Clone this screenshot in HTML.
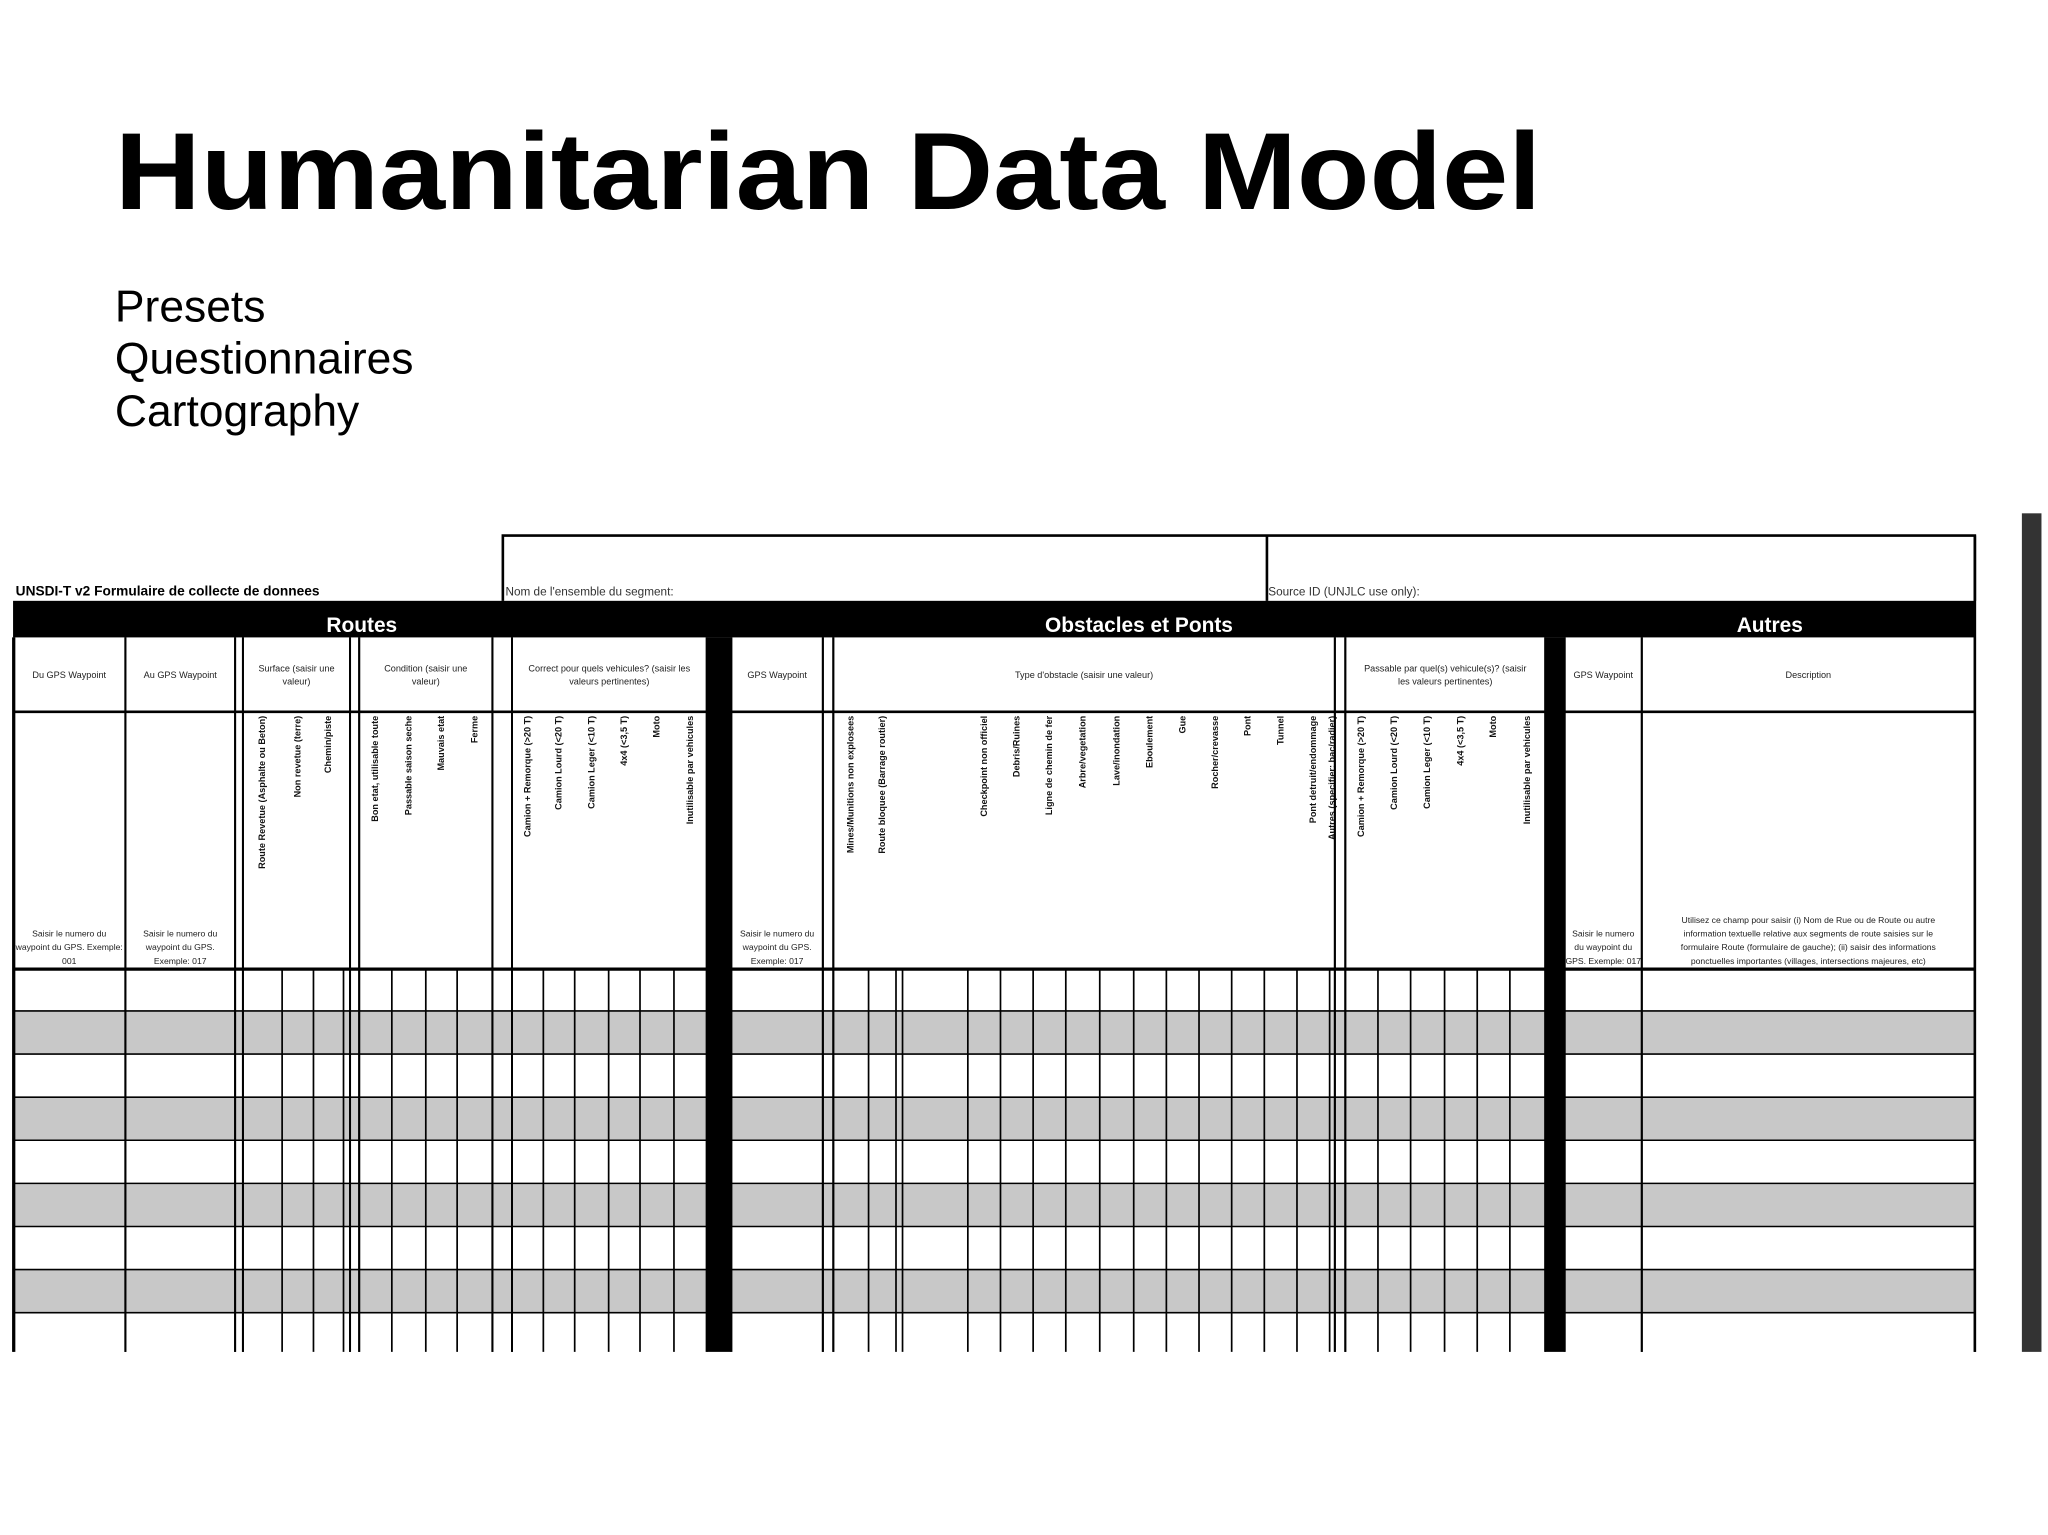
<!DOCTYPE html>
<html><head><meta charset="utf-8">
<style>
html,body{margin:0;padding:0;background:#fff;}
body{width:2048px;height:1535px;overflow:hidden;position:relative;font-family:"Liberation Sans",Arial,sans-serif;}
svg{position:absolute;left:0;top:0;}
</style></head>
<body>
<svg id="s" width="2048" height="1535" viewBox="0 0 1568 1175.2" preserveAspectRatio="none">
<text x="88" y="160" font-family="Liberation Sans, Arial, sans-serif" font-weight="bold" font-size="84" textLength="1092" lengthAdjust="spacingAndGlyphs">Humanitarian Data Model</text>
<text x="88" y="246" font-family="Liberation Sans, Arial, sans-serif" font-size="34">Presets</text>
<text x="88" y="286" font-family="Liberation Sans, Arial, sans-serif" font-size="34">Questionnaires</text>
<text x="88" y="326" font-family="Liberation Sans, Arial, sans-serif" font-size="34">Cartography</text>
<rect x="1548" y="393" width="15" height="642" fill="#333"/>
<g id="t"></g>
</svg>
<script>
// row boundaries (display coords) and gray pattern
const rowEdges = [742,774,807,840,873,906,939,972,1005,1035];
const rowShade = [0,1,0,1,0,1,0,1,0];
const groups = [
 {l:10,r:96,subs:[],h:"Du GPS Waypoint",bot:"Saisir le numero du waypoint du GPS. Exemple: 001",labels:[]},
 {l:96,r:180,subs:[],h:"Au GPS Waypoint",bot:"Saisir le numero du waypoint du GPS. Exemple: 017",labels:[]},
 {l:186,r:268,subs:[216,240,263],h:"Surface (saisir une valeur)",labels:["Route Revetue (Asphalte ou Beton)","Non revetue (terre)","Chemin/piste"]},
 {l:275,r:377,subs:[300,326,350],h:"Condition (saisir une valeur)",labels:["Bon etat, utilisable toute","Passable saison seche","Mauvais etat","Ferme"]},
 {l:392,r:541,subs:[416,440,466,490,516],h:"Correct pour quels vehicules? (saisir les valeurs pertinentes)",labels:["Camion + Remorque (>20 T)","Camion Lourd (<20 T)","Camion Leger (<10 T)","4x4 (<3,5 T)","Moto","Inutilisable par vehicules"]},
 {l:560,r:630,subs:[],h:"GPS Waypoint",bot:"Saisir le numero du waypoint du GPS. Exemple: 017",labels:[]},
 {l:638,r:1022,subs:[665,686,691,741,766,791,816,842,868,893,918,943,968,993,1018],h:"Type d'obstacle (saisir une valeur)",labels:["Mines/Munitions non explosees","Route bloquee (Barrage routier)","","","Checkpoint non officiel","Debris/Ruines","Ligne de chemin de fer","Arbre/vegetation","Lave/inondation","Eboulement","Gue","Rocher/crevasse","Pont","Tunnel","Pont detruit/endommage","Autres (specifier: bac/radier)"]},
 {l:1030,r:1183,subs:[1055,1080,1106,1131,1156],h:"Passable par quel(s) vehicule(s)? (saisir les valeurs pertinentes)",labels:["Camion + Remorque (>20 T)","Camion Lourd (<20 T)","Camion Leger (<10 T)","4x4 (<3,5 T)","Moto","Inutilisable par vehicules"]},
 {l:1198,r:1257,subs:[],h:"GPS Waypoint",bot:"Saisir le numero du waypoint du GPS. Exemple: 017",labels:[]},
 {l:1257,r:1512,subs:[],h:"Description",bot:"Utilisez ce champ pour saisir (i) Nom de Rue ou de Route ou autre information textuelle relative aux segments de route saisies sur le formulaire Route (formulaire de gauche); (ii) saisir des informations ponctuelles importantes (villages, intersections majeures, etc)",labels:[]}
];
const extraLines = [180,186,268,275,377,392,630,638,1022,1030];
const thickBars = [[541,560],[1183,1198]];
const sections = [["Routes",277],["Obstacles et Ponts",872],["Autres",1355]];
const NS="http://www.w3.org/2000/svg";
const g=document.getElementById('t');
function el(tag,attrs,parent){const e=document.createElementNS(NS,tag);for(const k in attrs)e.setAttribute(k,attrs[k]);(parent||g).appendChild(e);return e;}
for(let i=0;i<rowShade.length;i++){
 if(rowShade[i]){const r=el('rect',{x:10,y:rowEdges[i],width:1502,height:rowEdges[i+1]-rowEdges[i],fill:'#c8c8c8'});
 
 }
}
let tb=el('path',{d:"M385 460 V410 H1512 V460 M970 410 V460",stroke:'#000','stroke-width':2,fill:'none'});


const F='Liberation Sans, Arial, sans-serif';
let t1=el('text',{x:12,y:456,'font-family':F,'font-size':10.5,'font-weight':'bold'});t1.textContent="UNSDI-T v2 Formulaire de collecte de donnees";


let t2=el('text',{x:387,y:456,'font-family':F,'font-size':9,fill:'#333'});t2.textContent="Nom de l'ensemble du segment:";


let t3=el('text',{x:971,y:456,'font-family':F,'font-size':9,fill:'#333'});t3.textContent="Source ID (UNJLC use only):";


let band=el('rect',{x:10,y:460,width:1502,height:28,fill:'#000'});


sections.forEach(s=>{const t=el('text',{x:s[1],y:484,'text-anchor':'middle','font-family':F,'font-size':16,'font-weight':'bold',fill:'#fff'});t.textContent=s[0];
 
 });
const hl=(y,w)=>el('line',{x1:10,x2:1512,y1:y,y2:y,stroke:'#000','stroke-width':w});
hl(545,2);hl(742,2.5);
rowEdges.slice(1,-1).forEach(y=>{const l=hl(y,1.2);
 
 });
const vl=(x,y1,y2,w)=>el('line',{x1:x,x2:x,y1:y1,y2:y2,stroke:'#000','stroke-width':w});
vl(11,488,1035,1.5);vl(1512,410,1035,2);
groups.forEach(gr=>{
 vl(gr.l,488,1035,1.5);vl(gr.r,488,1035,1.5);
 gr.subs.forEach(x=>{const l=vl(x,742,1035,1.3);
  
  });
 const cx=(gr.l+gr.r)/2;
 const words=gr.h.split(' ');let lines=[];
 const maxc=Math.max(10,Math.floor((gr.r-gr.l)/3.6));let cur='';
 words.forEach(w=>{if((cur+' '+w).trim().length>maxc){lines.push(cur.trim());cur=w;}else cur+=' '+w;});lines.push(cur.trim());
 lines.forEach((ln,i)=>{const t=el('text',{x:cx,y:519+(i-(lines.length-1)/2)*10,'text-anchor':'middle','font-family':F,'font-size':7,fill:'#222'});t.textContent=ln;
  
  });
 if(gr.bot){
  const bw=gr.bot.split(' ');let bl=[],c='';const mc=Math.floor((gr.r-gr.l)/3.4);
  bw.forEach(w=>{if((c+' '+w).trim().length>mc){bl.push(c.trim());c=w;}else c+=' '+w;});bl.push(c.trim());
  bl.forEach((ln,i)=>{const t=el('text',{x:cx,y:738-(bl.length-1-i)*10.5,'text-anchor':'middle','font-family':F,'font-size':6.6,fill:'#222'});t.textContent=ln;
   
   });
 }
 const xs=[gr.l].concat(gr.subs).concat([gr.r]);
 gr.labels.forEach((lab,i)=>{if(!lab)return;const x=(xs[i]+xs[i+1])/2+2;
  const t=el('text',{x:0,y:0,transform:`translate(${x},548) rotate(-90)`,'text-anchor':'end','font-family':F,'font-size':7,'font-weight':'bold',fill:'#111'});t.textContent=lab;
  
  });
});
extraLines.forEach(x=>vl(x,488,1035,1.5));
thickBars.forEach(b=>{const r=el('rect',{x:b[0],y:488,width:b[1]-b[0],height:547,fill:'#000'});
 
 });
</script>
</body></html>
